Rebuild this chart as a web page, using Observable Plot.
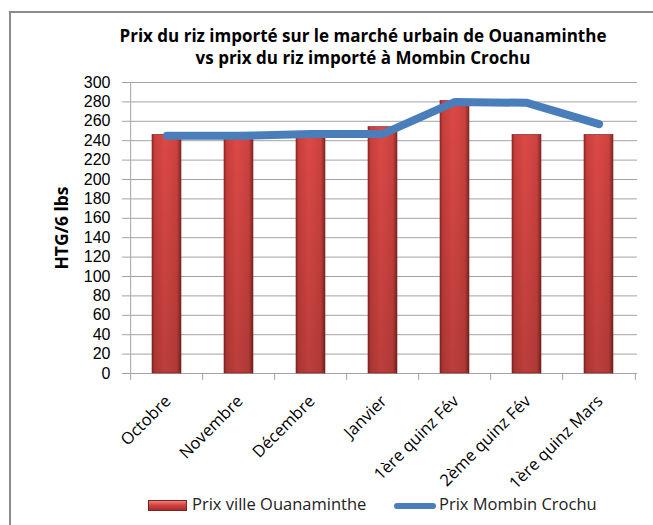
<!DOCTYPE html>
<html>
<head>
<meta charset="utf-8">
<script src="https://cdn.jsdelivr.net/npm/d3@7"></script>
<script src="https://cdn.jsdelivr.net/npm/@observablehq/plot@0.6"></script>
<style>
  html, body { margin: 0; padding: 0; background: #fff; }
  #wrap { position: relative; width: 653px; height: 525px; overflow: hidden; font-family: "Open Sans", sans-serif; }
  #frame { position: absolute; left: 9px; top: 11px; width: 700px; height: 600px; border-left: 2px solid #8c8c8c; border-top: 2px solid #8c8c8c; }
  #title { position: absolute; left: 0; width: 726px; top: 25px; text-align: center; font-weight: bold; font-size: 17px; line-height: 22px; color: #000; }
  #ylabel { position: absolute; left: 61px; top: 228px; transform: translate(-50%, -50%) rotate(-90deg); font-weight: bold; font-size: 17.5px; white-space: nowrap; color: #000; }
  #legend { position: absolute; top: 492px; left: 0; width: 653px; font-size: 16.5px; color: #222; }
  .sw1 { position: absolute; left: 148px; top: 8px; width: 39px; height: 11px; background: linear-gradient(#f27d7a, #d2443f 45%, #a92e2b); border: 1px solid #7a2220; box-sizing: border-box; }
  .t1 { position: absolute; left: 192px; top: 0px; white-space: nowrap; }
  .sw2 { position: absolute; left: 394px; top: 11px; width: 42px; height: 6px; background: #4a7ebb; border-radius: 3px; }
  .t2 { position: absolute; left: 439px; top: 0px; white-space: nowrap; }
  #chart { position: absolute; left: 0; top: 0; }
</style>
</head>
<body>
<div id="wrap">
  <div id="frame"></div>
  <div id="chart"></div>
  <div id="title">Prix du riz importé sur le marché urbain de Ouanaminthe<br>vs prix du riz importé à Mombin Crochu</div>
  <div id="ylabel">HTG/6 lbs</div>
  <div id="legend">
    <div class="sw1"></div><div class="t1">Prix ville Ouanaminthe</div>
    <div class="sw2"></div><div class="t2">Prix Mombin Crochu</div>
  </div>
</div>
<script>
const categories = ["Octobre", "Novembre", "Décembre", "Janvier", "1ère quinz Fév", "2ème quinz Fév", "1ère quinz Mars"];
const prixOuanaminthe = [246, 243, 244, 254, 281, 246, 246];
const prixMombin = [245, 245, 247, 247, 280, 279, 257];
const yTicks = [0, 20, 40, 60, 80, 100, 120, 140, 160, 180, 200, 220, 240, 260, 280, 300];

const W = 653, H = 525, ML = 128, MR = 16, MT = 82, MB = 152;
const step = (W - ML - MR) / categories.length;

const rows = categories.map((c, i) => ({cat: c, bar: prixOuanaminthe[i], line: prixMombin[i]}));

const svgNS = "http://www.w3.org/2000/svg";
function gradientDefs() {
  const g = document.createElementNS(svgNS, "g");
  const defs = document.createElementNS(svgNS, "defs");
  const lg = document.createElementNS(svgNS, "linearGradient");
  lg.setAttribute("id", "barGrad");
  lg.setAttribute("x1", "0"); lg.setAttribute("x2", "1");
  lg.setAttribute("y1", "0"); lg.setAttribute("y2", "0");
  [[0, "#9a2c2a"], [0.1, "#c93f3c"], [0.45, "#dc4946"], [0.85, "#cc423f"], [1, "#8a2725"]].forEach(([o, c]) => {
    const s = document.createElementNS(svgNS, "stop");
    s.setAttribute("offset", o); s.setAttribute("stop-color", c);
    lg.appendChild(s);
  });
  const vg = document.createElementNS(svgNS, "linearGradient");
  vg.setAttribute("id", "barShade");
  vg.setAttribute("x1", "0"); vg.setAttribute("x2", "0");
  vg.setAttribute("y1", "0"); vg.setAttribute("y2", "1");
  [[0, "#000", 0], [1, "#000", 0.15]].forEach(([o, c, op]) => {
    const s = document.createElementNS(svgNS, "stop");
    s.setAttribute("offset", o); s.setAttribute("stop-color", c); s.setAttribute("stop-opacity", op);
    vg.appendChild(s);
  });
  defs.appendChild(lg); defs.appendChild(vg);
  g.appendChild(defs);
  return g;
}

const chart = Plot.plot({
  width: W, height: H,
  marginLeft: ML, marginRight: MR, marginTop: MT, marginBottom: MB,
  style: {fontFamily: "Open Sans, sans-serif", fontSize: "16px", color: "#000", background: "transparent"},
  x: {type: "band", domain: categories, paddingInner: 0.6, paddingOuter: 0.3, axis: null},
  y: {domain: [0, 300], axis: null},
  marks: [
    gradientDefs,
    Plot.ruleY(yTicks, {stroke: "#a3a3a3", strokeWidth: 1, strokeOpacity: 1}),
    Plot.axisY({ticks: yTicks, tickSize: 6, tickPadding: 12, stroke: "#a3a3a3", strokeOpacity: 1, fontSize: 16, fontFamily: "Liberation Sans, Arial, sans-serif", fill: "#000", label: null, tickFormat: d => String(d)}),
    Plot.ruleX(categories, {x: d => d, y1: 0, y2: 0, dx: -step / 2, insetBottom: -7, stroke: "#a3a3a3"}),
    Plot.ruleX([categories[categories.length - 1]], {x: d => d, y1: 0, y2: 0, dx: step / 2, insetBottom: -7, stroke: "#a3a3a3"}),
    Plot.ruleX([categories[0]], {x: d => d, y1: 0, y2: 300, dx: -step / 2, stroke: "#a3a3a3"}),
    Plot.ruleY([0], {stroke: "#a3a3a3"}),
    Plot.barY(rows, {x: "cat", y: "bar", fill: "url(#barGrad)", stroke: "#7a2220", strokeWidth: 0.6}),
    Plot.barY(rows, {x: "cat", y: "bar", fill: "url(#barShade)"}),
    Plot.line(rows, {x: "cat", y: "line", stroke: "#4a7ebb", strokeWidth: 8, strokeLinecap: "round", strokeLinejoin: "round"}),
    Plot.text(categories, {x: d => d, y: 0, text: d => d, rotate: -45, textAnchor: "end", lineAnchor: "middle", dy: 25, dx: 1, fontSize: 16.5, fill: "#000"})
  ]
});
document.getElementById("chart").appendChild(chart);
</script>
</body>
</html>
